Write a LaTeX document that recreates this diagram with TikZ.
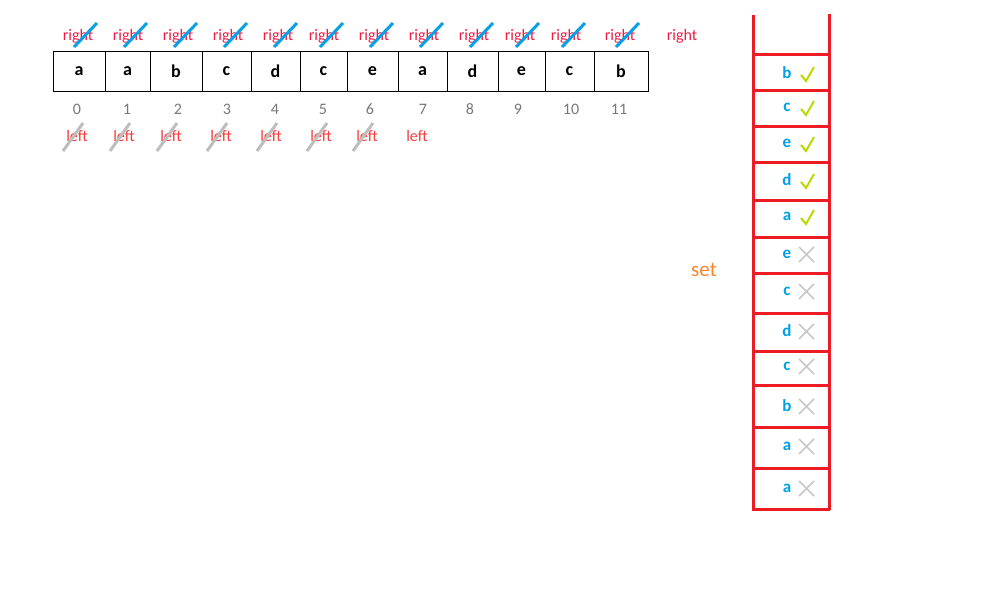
\documentclass[tikz,border=0pt]{standalone}
\usepackage{fontspec}
\setmainfont{Carlito}
\definecolor{rightred}{RGB}{240,30,70}
\definecolor{leftred}{RGB}{250,60,60}
\definecolor{strikeblue}{RGB}{10,160,230}
\definecolor{strikegray}{RGB}{190,190,190}
\definecolor{idxgray}{RGB}{120,120,120}
\definecolor{stackred}{RGB}{237,28,36}
\definecolor{letterblue}{RGB}{0,160,232}
\definecolor{checkgreen}{RGB}{190,215,0}
\definecolor{crossgray}{RGB}{200,200,200}
\definecolor{setorange}{RGB}{255,130,40}
\begin{document}
\begin{tikzpicture}[x=1pt,y=-1pt,
  lbl/.style={inner sep=0pt,font=\fontsize{16}{18}\selectfont},
  rlbl/.style={lbl,text=rightred},
  llbl/.style={lbl,text=leftred},
  idx/.style={lbl,text=idxgray},
  cellbox/.style={draw=black,line width=0.9pt,inner sep=0pt,font=\fontsize{18}{20}\selectfont\bfseries},
  bstrike/.style={draw=strikeblue,line width=3pt},
  gstrike/.style={draw=strikegray,line width=3pt},
  stackline/.style={draw=stackred,line width=3pt},
  sletter/.style={inner sep=0pt,text=letterblue,font=\fontsize{17}{19}\selectfont\bfseries},
  checkmark/.style={draw=checkgreen,line width=2pt},
  crossmark/.style={draw=crossgray,line width=1.6pt}]
\useasboundingbox (0,0) rectangle (1006,590);
\fill[white] (0,0) rectangle (1006,590);
% array cells
\foreach \l/\r/\t [count=\i from 0] in {53/105/a,105/150/a,150/202/b,202/251/c,251/300/d,300/347/c,347/398/e,398/447/a,447/498/d,498/545/e,545/594/c,594/648/b}{
  \node[cellbox,minimum width={\r-\l},minimum height=40pt] (c\i) at ({(\l+\r)/2},71) {\t};
}
% right labels with strikes
\foreach \x [count=\i from 0] in {78,128,178,228,278,324,374,424,474,520,566,620}{
  \node[rlbl] (r\i) at (\x,36) {right};
  \coordinate (rs\i) at (\x-4,47);
  \coordinate (re\i) at (\x+19,23);
  \draw[bstrike] (rs\i) -- (re\i);
}
\node[rlbl] (rlast) at (682,36) {right};
% indices
\foreach \x [count=\i from 0] in {77,127,178,227,275,323,370,423,470,518,571,619}{
  \node[idx] (n\i) at (\x,109) {\i};
}
% left labels
\foreach \x [count=\i from 0] in {77,124,171,221,271,321,367}{
  \node[llbl] (l\i) at (\x,136) {left};
  \coordinate (ls\i) at (\x-14,151);
  \coordinate (le\i) at (\x+6,123);
  \draw[gstrike] (ls\i) -- (le\i);
}
\node[llbl] (llast) at (417,136) {left};
% set label
\node[inner sep=0pt,text=setorange,font=\fontsize{21}{23}\selectfont] (setlbl) at (704,270) {set};
% stack container
\coordinate (sl) at (753,15);
\coordinate (slb) at (753,510);
\coordinate (sr) at (829,14);
\coordinate (srb) at (829,510);
\draw[stackline] (sl) -- (slb);
\draw[stackline] (sr) -- (srb);
\draw[stackline] (752,509) -- (830,509);
\foreach \y in {54,90,126,162,200,237,273,313,351,385,427,468}{
  \draw[stackline] (753,\y) -- (829,\y);
}
% stack entries with checks
\foreach \t/\y [count=\i] in {b/73,c/107,e/143,d/180,a/216}{
  \node[sletter] (s\i) at (787,\y) {\t};
  \draw[checkmark] (801,\y+2) -- (806,\y+8) -- (814,\y-6);
}
% stack entries with crosses
\foreach \t/\y [count=\i from 6] in {e/254,c/291,d/331,c/366,b/406,a/446,a/488}{
  \node[sletter] (s\i) at (787,\y) {\t};
  \draw[crossmark] (799,\y-7) -- (814,\y+8);
  \draw[crossmark] (799,\y+8) -- (814,\y-7);
}
\end{tikzpicture}
\end{document}
